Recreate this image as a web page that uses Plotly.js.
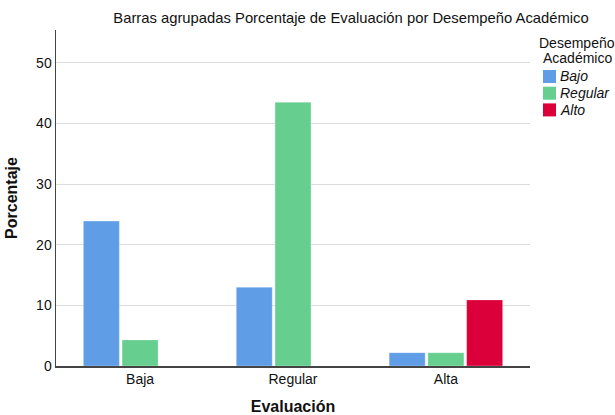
<!DOCTYPE html>
<html>
<head>
<meta charset="utf-8">
<script src="https://cdn.plot.ly/plotly-3.0.1.min.js"></script>
<style>html,body{margin:0;padding:0;background:#fff;}#chart{width:615px;height:415px;}</style>
</head>
<body>
<div id="chart"></div>
<script>
const categories = ["Baja", "Regular", "Alta"];
const seriesNames = ["Bajo", "Regular", "Alto"];
const bajoValues = [23.9, 13.0, 2.2];
const regularValues = [4.3, 43.5, 2.2];
const altoValues = [null, null, 10.9];
const colors = ["#5f9ee6", "#66cf8f", "#db003a"];
const legendTitleLines = ["Desempeño", "Académico"];

const allValues = [bajoValues, regularValues, altoValues];
const traces = allValues.map((vals, i) => ({
  type: "bar",
  name: seriesNames[i],
  x: categories,
  y: vals,
  marker: {color: colors[i], line: {color: "rgba(255,255,255,0.6)", width: 0.5}},
  hoverinfo: "none"
}));

const W = 615, H = 415;
const M = {l: 56, r: 85, t: 30, b: 49};
const pw = W - M.l - M.r, ph = H - M.t - M.b;
const px = x => (x - M.l) / pw;
const py = y => (H - M.b - y) / ph;

const font = "Liberation Sans, Arial, sans-serif";
const txt = "#111";

// legend drawn as shapes + annotations (SPSS style)
const shapes = [];
const annotations = [];
legendTitleLines.forEach((line, k) => {
  annotations.push({xref: "paper", yref: "paper", x: px(577), y: py(43 + 15 * k),
    xanchor: "center", yanchor: "middle", showarrow: false, text: line,
    font: {size: 14, color: txt, family: font}});
});
seriesNames.forEach((name, i) => {
  const cy = 76.5 + 16.7 * i;
  shapes.push({type: "rect", xref: "paper", yref: "paper",
    x0: px(543), x1: px(556), y0: py(cy - 6.5), y1: py(cy + 6.5),
    fillcolor: colors[i], line: {width: 0}});
  annotations.push({xref: "paper", yref: "paper", x: px(558), y: py(cy),
    xanchor: "left", yanchor: "middle", showarrow: false, text: "<i>" + name + "</i>",
    font: {size: 14, color: txt, family: font}});
});

const layout = {
  width: W, height: H,
  margin: {l: M.l, r: M.r, t: M.t, b: M.b, autoexpand: false},
  paper_bgcolor: "#fff", plot_bgcolor: "#fff",
  font: {family: font, color: txt, size: 14},
  barmode: "group",
  bargap: 0.24,
  bargroupgap: 0.07,
  showlegend: false,
  title: {text: "Barras agrupadas Porcentaje de Evaluación por Desempeño Académico",
          font: {size: 14.8, color: txt, family: font}, xref: "container", x: 351 / W, xanchor: "center",
          yref: "container", y: 1 - 18 / H, yanchor: "middle"},
  xaxis: {
    range: [-0.55, 2.55],
    showline: true, linecolor: "#444", linewidth: 1.5,
    showgrid: false, ticks: "", tickfont: {size: 14, color: txt},
    title: {text: "<b>Evaluación</b>", font: {size: 16, color: txt}, standoff: 14}
  },
  yaxis: {
    range: [0, 55.4],
    tickvals: [0, 10, 20, 30, 40, 50],
    showline: true, linecolor: "#444", linewidth: 1.5,
    showgrid: true, gridcolor: "#dcdcdc", gridwidth: 1,
    zeroline: false, ticks: "", tickfont: {size: 14, color: txt},
    title: {text: "<b>Porcentaje</b>", font: {size: 16, color: txt}, standoff: 14}
  },
  shapes: shapes,
  annotations: annotations
};

Plotly.newPlot("chart", traces, layout, {staticPlot: true});
</script>
</body>
</html>
